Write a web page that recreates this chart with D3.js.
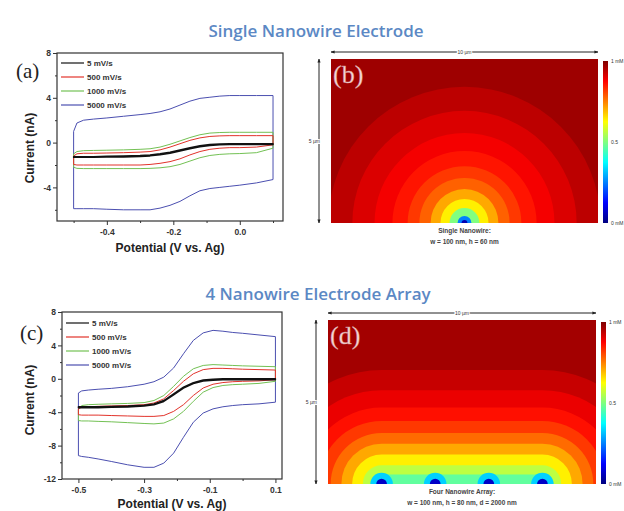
<!DOCTYPE html>
<html>
<head>
<meta charset="utf-8">
<script src="https://cdn.jsdelivr.net/npm/d3@7"></script>
<style>
  body { margin: 0; background: #fff; }
  svg { display: block; }
</style>
</head>
<body>
<div id="chart"></div>
<script>
// ---- data ----
const scanRates = ["5 mV/s", "500 mV/s", "1000 mV/s", "5000 mV/s"]
const lineColors = ["#111111", "#e2332b", "#73c154", "#4b4fb0"]

// potential grid (V vs. Ag) shared by both sweeps; reverse arrays are listed in the same order
const potentials = [-0.5, -0.49, -0.47, -0.44, -0.4, -0.35, -0.3, -0.27, -0.24, -0.21, -0.18, -0.15, -0.12, -0.09, -0.06, -0.03, 0, 0.05, 0.1]

// (a) single nanowire, current in nA
const singleFwd5    = [-1.25, -1.25, -1.25, -1.25, -1.22, -1.2, -1.15, -1.1, -1.0, -0.85, -0.65, -0.45, -0.28, -0.17, -0.12, -0.1, -0.1, -0.1, -0.1]
const singleRev5    = [-1.32, -1.32, -1.32, -1.32, -1.3, -1.28, -1.24, -1.19, -1.1, -0.95, -0.75, -0.55, -0.37, -0.26, -0.2, -0.18, -0.18, -0.18, -0.18]
const singleFwd500  = [-1.2, -1.0, -0.95, -0.95, -0.93, -0.9, -0.85, -0.8, -0.65, -0.4, -0.1, 0.2, 0.42, 0.55, 0.6, 0.62, 0.62, 0.62, 0.62]
const singleRev500  = [-1.95, -2.0, -2.0, -2.0, -2.0, -2.0, -2.0, -1.95, -1.85, -1.7, -1.45, -1.1, -0.8, -0.6, -0.5, -0.45, -0.45, -0.4, -0.2]
const singleFwd1000 = [-1.0, -0.8, -0.72, -0.7, -0.68, -0.65, -0.6, -0.55, -0.4, -0.15, 0.15, 0.45, 0.7, 0.85, 0.9, 0.92, 0.92, 0.92, 0.92]
const singleRev1000 = [-2.2, -2.3, -2.32, -2.32, -2.32, -2.32, -2.32, -2.3, -2.25, -2.15, -1.95, -1.65, -1.35, -1.15, -1.05, -1.0, -0.98, -0.9, -0.5]
const singleFwd5000 = [1.0, 1.75, 2.0, 2.1, 2.2, 2.35, 2.5, 2.6, 2.75, 3.0, 3.35, 3.7, 3.95, 4.05, 4.15, 4.2, 4.2, 4.2, 4.2]
const singleRev5000 = [-5.9, -5.9, -5.9, -5.9, -5.95, -6.0, -6.0, -6.0, -5.85, -5.6, -5.25, -4.75, -4.3, -4.1, -4.0, -3.9, -3.8, -3.6, -3.3]

// (c) four nanowire array, current in nA
const arrayFwd5    = [-3.35, -3.35, -3.35, -3.35, -3.3, -3.25, -3.15, -3.0, -2.6, -1.8, -1.0, -0.45, -0.15, -0.05, 0, 0, 0, 0, 0]
const arrayRev5    = [-3.47, -3.47, -3.47, -3.47, -3.42, -3.37, -3.27, -3.12, -2.72, -1.92, -1.12, -0.57, -0.27, -0.17, -0.12, -0.12, -0.12, -0.12, -0.12]
const arrayFwd500  = [-3.6, -3.4, -3.35, -3.3, -3.25, -3.2, -3.1, -2.9, -2.4, -1.4, -0.3, 0.6, 1.1, 1.25, 1.25, 1.2, 1.15, 1.1, 1.05]
const arrayRev500  = [-4.3, -4.35, -4.35, -4.35, -4.4, -4.45, -4.5, -4.5, -4.4, -3.9, -3.1, -2.0, -1.1, -0.65, -0.45, -0.35, -0.3, -0.25, -0.1]
const arrayFwd1000 = [-3.7, -3.2, -3.1, -3.05, -3.0, -2.95, -2.85, -2.6, -2.0, -0.9, 0.3, 1.2, 1.6, 1.7, 1.65, 1.6, 1.55, 1.5, 1.45]
const arrayRev1000 = [-5.0, -5.05, -5.05, -5.1, -5.15, -5.25, -5.35, -5.4, -5.3, -4.8, -3.9, -2.7, -1.6, -1.05, -0.8, -0.7, -0.65, -0.55, -0.3]
const arrayFwd5000 = [-1.7, -1.45, -1.35, -1.25, -1.15, -0.95, -0.65, -0.35, 0.2, 1.3, 3.0, 4.6, 5.5, 5.8, 5.7, 5.55, 5.45, 5.25, 5.05]
const arrayRev5000 = [-9.2, -9.3, -9.4, -9.6, -9.9, -10.3, -10.6, -10.6, -10.1, -8.9, -7.0, -5.2, -4.1, -3.6, -3.35, -3.2, -3.1, -3.0, -2.8]

// tick values
const singleXTicks = [-0.4, -0.2, 0.0]
const singleXMinor = [-0.5, -0.3, -0.1, 0.1]
const singleYTicks = [8, 4, 0, -4]
const singleYMinor = [6, 2, -2, -6]
const arrayXTicks = [-0.5, -0.3, -0.1, 0.1]
const arrayXMinor = [-0.4, -0.2, 0.0]
const arrayYTicks = [8, 4, 0, -4, -8, -12]
const arrayYMinor = [6, 2, -2, -6, -10]

// concentration maps: contour distance from the electrode(s) in µm and the band value (c / c0)
const singleWires = [0]
const singleBackground = 0.97
const singleBandDists = [5.1, 4.2, 3.37, 2.7, 2.13, 1.69, 1.27, 0.9, 0.56, 0.26, 0.11]
const singleBandValues = [0.94, 0.91, 0.885, 0.855, 0.82, 0.78, 0.71, 0.64, 0.5, 0.25, 0.05]

const arrayWires = [-3, -1, 1, 3]
const arrayBackground = 0.965
const arrayBandDists = [4.25, 3.5, 2.85, 2.35, 1.9, 1.5, 1.1, 0.7, 0.35]
const arrayBandValues = [0.93, 0.895, 0.86, 0.82, 0.77, 0.71, 0.64, 0.56, 0.47]
const arraySpotRadii = [0.42, 0.2]
const arraySpotValues = [0.33, 0.07]

const jetStops = [0, 0.125, 0.375, 0.625, 0.875, 1]
const jetColors = ["#00007f", "#0000ff", "#00ffff", "#ffff00", "#ff0000", "#7f0000"]

// ---- drawing ----
const W = 624, H = 511
const svg = d3.select("#chart").append("svg").attr("width", W).attr("height", H)
const jet = d3.scaleLinear().domain(jetStops).range(jetColors)
const sans = "'Liberation Sans', Arial, sans-serif"
const serif = "'Liberation Serif', 'Times New Roman', serif"

addTitle("Single Nanowire Electrode", 316, 37)
addTitle("4 Nanowire Electrode Array", 318, 300)

drawCV({
  label: "(a)", labelX: 16, labelY: 78,
  left: 57, right: 283, top: 53, bottom: 221,
  xDomain: [-0.55, 0.13], yDomain: [-7, 8],
  xTicks: singleXTicks, xMinor: singleXMinor, yTicks: singleYTicks, yMinor: singleYMinor,
  fwd: [singleFwd5, singleFwd500, singleFwd1000, singleFwd5000],
  rev: [singleRev5, singleRev500, singleRev1000, singleRev5000],
  legendX: 61, legendY: 63, xTitleY: 252, yTitleY: 148
})

drawCV({
  label: "(c)", labelX: 20, labelY: 340,
  left: 62, right: 282, top: 312, bottom: 479,
  xDomain: [-0.55, 0.12], yDomain: [-12, 8],
  xTicks: arrayXTicks, xMinor: arrayXMinor, yTicks: arrayYTicks, yMinor: arrayYMinor,
  fwd: [arrayFwd5, arrayFwd500, arrayFwd1000, arrayFwd5000],
  rev: [arrayRev5, arrayRev500, arrayRev1000, arrayRev5000],
  legendX: 66, legendY: 323, xTitleY: 508, yTitleY: 400
})

drawHeat({
  id: "b", label: "(b)",
  left: 331, right: 598, top: 59, bottom: 223,
  wires: singleWires, background: singleBackground,
  dists: singleBandDists, values: singleBandValues,
  spots: [], spotValues: [],
  caption: ["Single Nanowire:", "w = 100 nm, h = 60 nm"]
})

drawHeat({
  id: "d", label: "(d)",
  left: 328, right: 596, top: 320, bottom: 484,
  wires: arrayWires, background: arrayBackground,
  dists: arrayBandDists, values: arrayBandValues,
  spots: arraySpotRadii, spotValues: arraySpotValues,
  caption: ["Four Nanowire Array:", "w = 100 nm, h = 80 nm, d = 2000 nm"]
})

function addTitle(text, x, y) {
  svg.append("text").attr("x", x).attr("y", y).attr("text-anchor", "middle")
    .attr("font-family", "'Open Sans', sans-serif").attr("font-weight", 600)
    .attr("font-size", "17px").attr("fill", "#5b88c4").text(text)
}

function drawCV(c) {
  const x = d3.scaleLinear().domain(c.xDomain).range([c.left, c.right])
  const y = d3.scaleLinear().domain(c.yDomain).range([c.bottom, c.top])
  const g = svg.append("g")

  const line = d3.line().x(d => x(d[0])).y(d => y(d[1]))
  // draw fastest scan first so the slow ones sit on top
  d3.range(scanRates.length).reverse().forEach(i => {
    const fwd = potentials.map((e, j) => [e, c.fwd[i][j]])
    const rev = potentials.map((e, j) => [e, c.rev[i][j]]).reverse()
    g.append("path").attr("d", line(fwd.concat(rev)) + "Z")
      .attr("fill", "none").attr("stroke", lineColors[i])
      .attr("stroke-width", i === 0 ? 1.4 : 1).attr("stroke-linejoin", "round")
  })

  g.append("rect").attr("x", c.left).attr("y", c.top)
    .attr("width", c.right - c.left).attr("height", c.bottom - c.top)
    .attr("fill", "none").attr("stroke", "#333").attr("stroke-width", 1.2)

  const styleAxis = a => {
    a.select(".domain").remove()
    a.selectAll("line").attr("stroke", "#333")
    a.selectAll("text").attr("font-family", sans).attr("font-weight", "bold")
      .attr("font-size", "8.5px").attr("fill", "#333")
  }
  g.append("g").attr("transform", `translate(0,${c.bottom})`)
    .call(d3.axisBottom(x).tickValues(c.xTicks).tickSize(4).tickPadding(4).tickFormat(d => d.toFixed(1)))
    .call(styleAxis)
  g.append("g").attr("transform", `translate(0,${c.bottom})`)
    .call(d3.axisBottom(x).tickValues(c.xMinor).tickSize(2).tickFormat(""))
    .call(styleAxis)
  g.append("g").attr("transform", `translate(${c.left},0)`)
    .call(d3.axisLeft(y).tickValues(c.yTicks).tickSize(4).tickPadding(2).tickFormat(d => String(d)))
    .call(styleAxis)
  g.append("g").attr("transform", `translate(${c.left},0)`)
    .call(d3.axisLeft(y).tickValues(c.yMinor).tickSize(2).tickFormat(""))
    .call(styleAxis)

  g.append("text").attr("x", (c.left + c.right) / 2).attr("y", c.xTitleY)
    .attr("text-anchor", "middle").attr("font-family", sans).attr("font-weight", "bold")
    .attr("font-size", "12px").attr("fill", "#222").text("Potential (V vs. Ag)")
  g.append("text").attr("transform", `translate(34,${c.yTitleY}) rotate(-90)`)
    .attr("text-anchor", "middle").attr("font-family", sans).attr("font-weight", "bold")
    .attr("font-size", "12px").attr("fill", "#222").text("Current (nA)")

  g.append("text").attr("x", c.labelX).attr("y", c.labelY)
    .attr("font-family", serif).attr("font-size", "21px").attr("fill", "#222").text(c.label)

  const leg = g.append("g")
  scanRates.forEach((s, i) => {
    const ly = c.legendY + i * 14
    leg.append("line").attr("x1", c.legendX).attr("x2", c.legendX + 23)
      .attr("y1", ly).attr("y2", ly).attr("stroke", lineColors[i]).attr("stroke-width", 1.2)
    leg.append("text").attr("x", c.legendX + 26).attr("y", ly + 3)
      .attr("font-family", sans).attr("font-weight", "bold").attr("font-size", "8px")
      .attr("fill", "#333").text(s)
  })
}

function bandPath(xa, xb, y0, r) {
  // contour at distance r from the electrode segment [xa, xb] on the bottom edge
  const p = d3.path()
  p.moveTo(xa - r, y0)
  p.arc(xa, y0, r, Math.PI, 1.5 * Math.PI)
  p.lineTo(xb, y0 - r)
  p.arc(xb, y0, r, 1.5 * Math.PI, 2 * Math.PI)
  p.closePath()
  return p.toString()
}

function drawHeat(c) {
  const x = d3.scaleLinear().domain([-5, 5]).range([c.left, c.right])
  const px = d => x(d) - x(0)
  const w = c.right - c.left, h = c.bottom - c.top
  const defs = svg.append("defs")
  defs.append("clipPath").attr("id", "clip-" + c.id)
    .append("rect").attr("x", c.left).attr("y", c.top).attr("width", w).attr("height", h)

  const g = svg.append("g").attr("clip-path", `url(#clip-${c.id})`)
  g.append("rect").attr("x", c.left).attr("y", c.top).attr("width", w).attr("height", h)
    .attr("fill", jet(c.background))
  const xa = x(d3.min(c.wires)), xb = x(d3.max(c.wires))
  c.dists.forEach((d, i) => {
    g.append("path").attr("d", bandPath(xa, xb, c.bottom, px(d))).attr("fill", jet(c.values[i]))
  })
  c.spots.forEach((r, i) => {
    g.selectAll(null).data(c.wires).enter().append("circle")
      .attr("cx", d => x(d)).attr("cy", c.bottom).attr("r", px(r))
      .attr("fill", jet(c.spotValues[i]))
  })

  // panel label
  svg.append("text").attr("x", c.left + 2).attr("y", c.top + 24)
    .attr("font-family", serif).attr("font-size", "26px").attr("fill", "#f6d6d6")
    .attr("stroke", "#c88").attr("stroke-width", 0.4).text(c.label)

  // colour bar
  const gradId = "jet-" + c.id
  const grad = defs.append("linearGradient").attr("id", gradId)
    .attr("x1", 0).attr("y1", 1).attr("x2", 0).attr("y2", 0)
  jetStops.forEach((s, i) => grad.append("stop").attr("offset", s).attr("stop-color", jetColors[i]))
  svg.append("rect").attr("x", c.right + 5).attr("y", c.top + 2).attr("width", 5).attr("height", h - 2)
    .attr("fill", `url(#${gradId})`)
  const cb = d3.scaleLinear().domain([0, 1]).range([c.bottom, c.top + 2])
  const cbLabels = [[1, "1 mM"], [0.5, "0.5"], [0, "0 mM"]]
  cbLabels.forEach(([v, t]) => {
    svg.append("text").attr("x", c.right + 13).attr("y", cb(v) + 2)
      .attr("font-family", sans).attr("font-size", "5px").attr("fill", "#333").text(t)
  })

  // dimension arrows
  const mk = "arrow-" + c.id
  defs.append("marker").attr("id", mk).attr("viewBox", "0 0 10 10").attr("refX", 9).attr("refY", 5)
    .attr("markerWidth", 4).attr("markerHeight", 4).attr("orient", "auto-start-reverse")
    .append("path").attr("d", "M0,1 L10,5 L0,9 Z").attr("fill", "#222")
  const ay = c.top - 7, ax = c.left - 12
  svg.append("line").attr("x1", c.left).attr("x2", c.right).attr("y1", ay).attr("y2", ay)
    .attr("stroke", "#222").attr("stroke-width", 1)
    .attr("marker-start", `url(#${mk})`).attr("marker-end", `url(#${mk})`)
  svg.append("line").attr("x1", ax).attr("x2", ax).attr("y1", c.top).attr("y2", c.bottom)
    .attr("stroke", "#222").attr("stroke-width", 1)
    .attr("marker-start", `url(#${mk})`).attr("marker-end", `url(#${mk})`)
  svg.append("text").attr("x", (c.left + c.right) / 2).attr("y", ay + 2).attr("text-anchor", "middle")
    .attr("font-family", sans).attr("font-size", "5px").attr("fill", "#333")
    .attr("stroke", "#fff").attr("stroke-width", 2).attr("paint-order", "stroke").text("10 µm")
  svg.append("text").attr("x", ax + 1).attr("y", (c.top + c.bottom) / 2 + 2).attr("text-anchor", "end")
    .attr("font-family", sans).attr("font-size", "5px").attr("fill", "#333")
    .attr("stroke", "#fff").attr("stroke-width", 2).attr("paint-order", "stroke").text("5 µm")

  c.caption.forEach((t, i) => {
    svg.append("text").attr("x", (c.left + c.right) / 2).attr("y", c.bottom + 10 + i * 11)
      .attr("text-anchor", "middle").attr("font-family", sans).attr("font-weight", "bold")
      .attr("font-size", "6.5px").attr("fill", "#444").text(t)
  })
}
</script>
</body>
</html>
